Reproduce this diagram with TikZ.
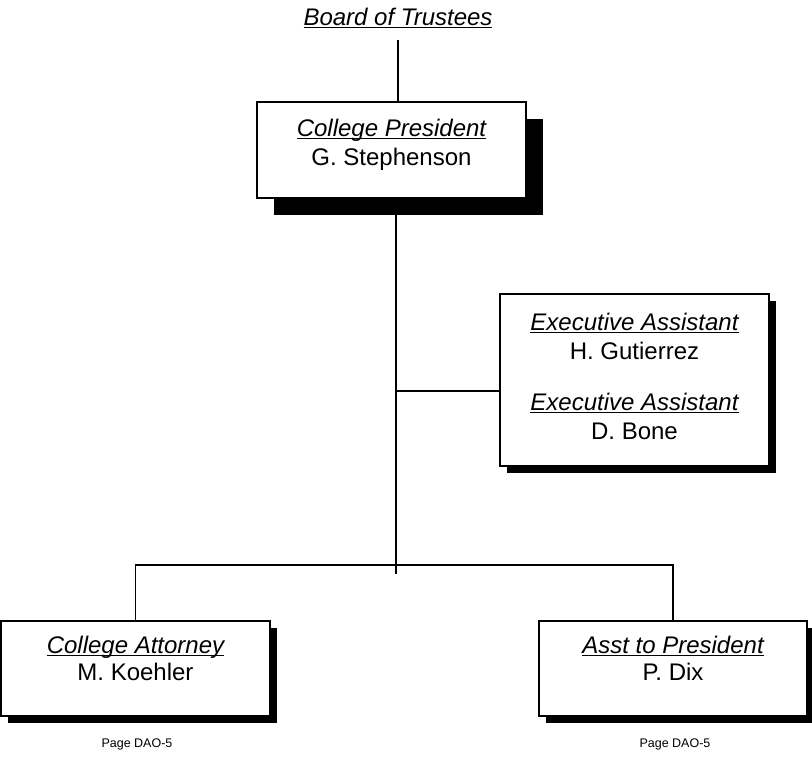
\documentclass[tikz,border=0pt]{standalone}
\usepackage{fontspec}
\setmainfont{Liberation Sans}
\usetikzlibrary{shadows}

\newcommand{\ttlu}[1]{\setbox0=\hbox{\itshape #1}\rlap{\rule[-3pt]{\wd0}{1.3pt}}\box0}

\begin{document}
\begin{tikzpicture}[x=1pt,y=-1pt,line width=1.5pt,
        box/.style={draw,fill=white,line width=1.2pt,inner sep=0pt},
        bigshadow/.style={drop shadow={shadow xshift=17pt,shadow yshift=-17pt,fill=black,opacity=1}},
        smallshadow/.style={drop shadow={shadow xshift=7pt,shadow yshift=-7pt,fill=black,opacity=1}},
        txt/.style={anchor=north,align=center,inner sep=0pt,font=\fontsize{24}{29}\selectfont},
        pagetxt/.style={anchor=base,inner sep=0pt,font=\fontsize{12.5}{15}\selectfont}]
        \useasboundingbox (0,0) rectangle (812,756);

        % boxes
        \node[box,bigshadow,minimum width=269pt,minimum height=96pt] (P1) at (391.5,150) {};
        \node[box,smallshadow,minimum width=269pt,minimum height=172pt] (E1) at (634.5,380) {};
        \node[box,smallshadow,minimum width=269pt,minimum height=95pt] (A1) at (135.5,668.5) {};
        \node[box,smallshadow,minimum width=268pt,minimum height=95pt] (D1) at (673,668.5) {};

        % texts
        \node[anchor=base,inner sep=0pt,font=\fontsize{24}{29}\selectfont] (B1) at (398,25) {\ttlu{Board of Trustees}};
        \node[txt] (P1t) at (391.5,118) {\ttlu{College President}\\ G. Stephenson};
        \node[txt] (E1t) at (634.5,312) {\ttlu{Executive Assistant}\\ H. Gutierrez\\[22pt] \ttlu{Executive Assistant}\\ D. Bone};
        \node[txt,font=\fontsize{24}{27}\selectfont] (A1t) at (135.5,635) {\ttlu{College Attorney}\\ M. Koehler};
        \node[txt,font=\fontsize{24}{27}\selectfont] (D1t) at (673,635) {\ttlu{Asst to President}\\ P. Dix};
        \node[pagetxt] (A1p) at (137,747) {Page DAO-5};
        \node[pagetxt] (D1p) at (675,747) {Page DAO-5};

        % lines
        \coordinate (J1) at (396,574);
        \coordinate (J2) at (396,391);
        \coordinate (J3) at (396,565);
        \draw ([yshift=-11pt]B1.south) -- (B1.south |- P1.north);
        \draw (J1 |- P1.south) -- (J1);
        \draw (J2) -- (J2 -| E1.west);
        \draw (A1.north) -- (A1.north |- J3) -- (D1.north |- J3) -- (D1.north);
\end{tikzpicture}
\end{document}
